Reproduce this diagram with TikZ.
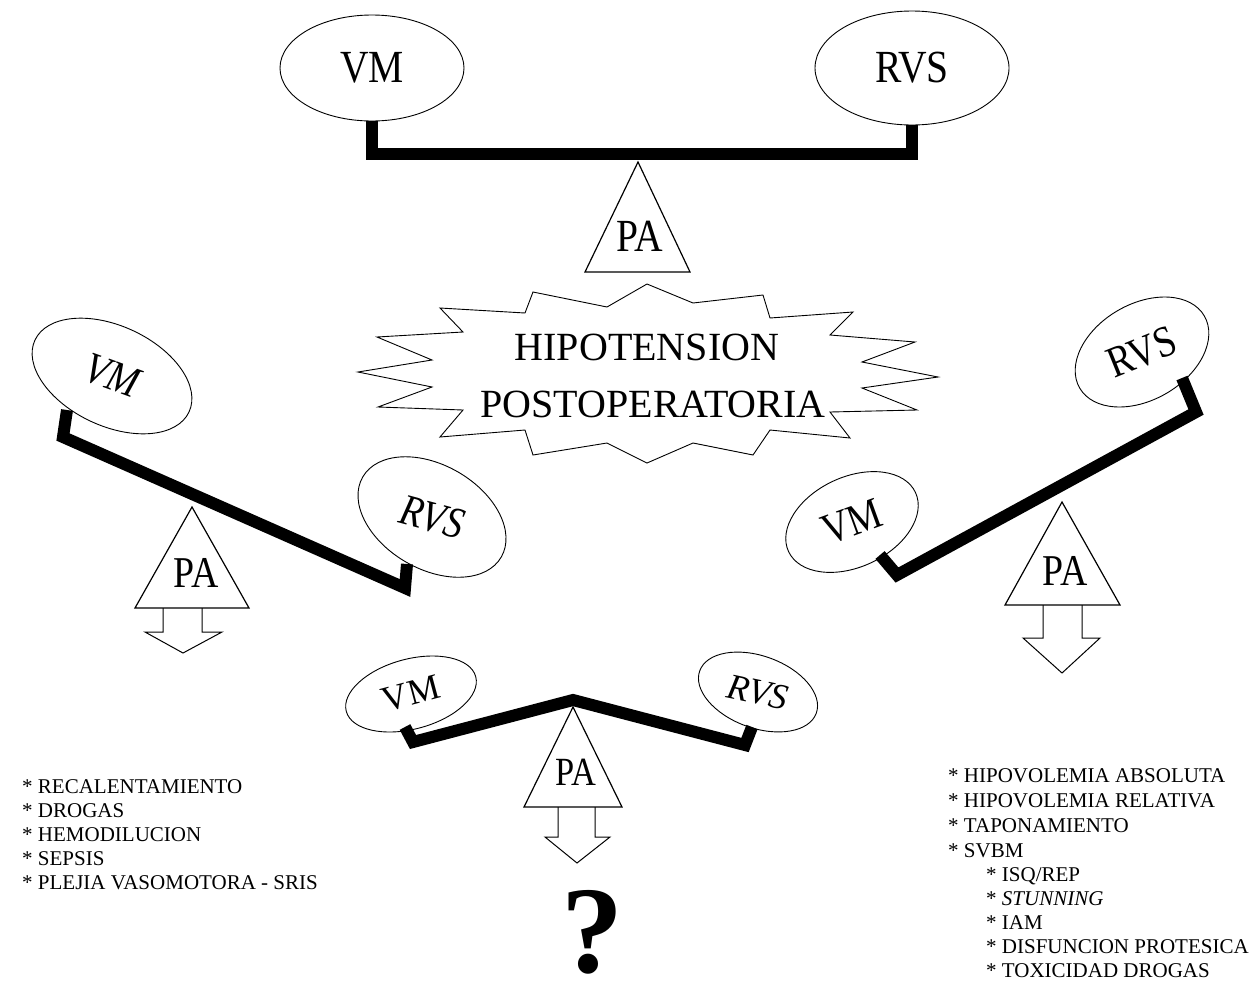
\documentclass[tikz,border=0pt]{standalone}
\usepackage{fontspec}
\usepackage{graphicx}
\setmainfont{Liberation Serif}
\usetikzlibrary{shapes.geometric}
% horizontally condensed lettering for the oval labels
\newcommand{\squeezed}[1]{\scalebox{0.86}[1]{#1}}

\begin{document}
\begin{tikzpicture}[x=1pt,y=-1pt,
  oval/.style={draw, ellipse, line width=0.9pt, inner sep=0pt},
  bigfont/.style={font=\fontsize{46}{50}\selectfont},
  midfont/.style={font=\fontsize{44}{48}\selectfont},
  miditalic/.style={font=\fontsize{44}{48}\selectfont\itshape},
  smallfont/.style={font=\fontsize{36}{40}\selectfont},
  smallitalic/.style={font=\fontsize{36}{40}\selectfont\itshape},
  beam/.style={line width=12pt, line join=miter, line cap=butt},
  fulcrum/.style={draw, line width=1.2pt, line join=miter},
  blockarrow/.style={draw, line width=1pt, line join=miter},
  listfont/.style={font=\fontsize{21}{24}\selectfont, anchor=base west, inner sep=0pt},
]
\useasboundingbox (0,0) rectangle (1260,983);

% ---------- balanced scale (top) ----------
\node[oval, bigfont, minimum width=184pt, minimum height=106pt] (vmT) at (372,68) {\squeezed{VM}};
\node[oval, bigfont, minimum width=194pt, minimum height=114pt] (rvsT) at (912,68) {\squeezed{RVS}};
\coordinate (tA) at (638,162);
\coordinate (tB) at (585,272);
\coordinate (tC) at (690,272);
\draw[fulcrum] (tA) -- (tB) -- (tC) -- cycle;
\node[bigfont, inner sep=0pt] (paT) at (640,236) {\squeezed{PA}};
\coordinate (tR) at (912,154);
\draw[beam] (vmT.south) |- (tR) -- (rvsT.south);

% ---------- central burst ----------
\draw[line width=0.9pt, line join=miter]
  (440,308) -- (525,313) -- (533,292) -- (607,307) -- (647,284) -- (693,303)
  -- (763,295) -- (770,318) -- (853,312) -- (830,335) -- (915,342) -- (862,362)
  -- (938,377) -- (862,388) -- (917,410) -- (830,412) -- (850,438) -- (770,430)
  -- (753,455) -- (693,443) -- (647,463) -- (607,443) -- (533,455) -- (525,430)
  -- (440,437) -- (463,410) -- (378,407) -- (432,387) -- (358,372) -- (432,360)
  -- (377,337) -- (463,332) -- cycle;
\node[anchor=base, inner sep=0pt, font=\fontsize{40}{44}\selectfont] (title1) at (647,360) {HIPOTENSION};
\node[anchor=base, inner sep=0pt, font=\fontsize{40}{44}\selectfont] (title2) at (653,417) {POSTOPERATORIA};

% ---------- scale tipped to the right (left) ----------
\node[oval, miditalic, minimum width=170pt, minimum height=100pt, rotate=-25] (vmL) at (112,376) {\rotatebox{5}{\squeezed{VM}}};
\node[oval, miditalic, minimum width=160pt, minimum height=104pt, rotate=-30] (rvsL) at (432,517) {\rotatebox{15}{\squeezed{RVS}}};
\coordinate (lA) at (192,507);
\coordinate (lB) at (135,608);
\coordinate (lC) at (249,608);
\draw[fulcrum] (lA) -- (lB) -- (lC) -- cycle;
\node[midfont, inner sep=0pt] (paL) at (196,573) {\squeezed{PA}};
\coordinate (l1) at (67,410);
\coordinate (l2) at (63,437);
\coordinate (l3) at (405,588);
\coordinate (l4) at (407,564);
\draw[beam] (l1) -- (l2) -- (l3) -- (l4);
\coordinate (la1) at (163,608);
\coordinate (la2) at (202,608);
\draw[blockarrow] (la1) -- (163,632) -- (145,632) -- (183,653) -- (222,632) -- (202,632) -- (la2);

% ---------- scale tipped to the left (right) ----------
\node[oval, midfont, minimum width=144pt, minimum height=96pt, rotate=30] (rvsR) at (1142,352) {\rotatebox{-8}{\squeezed{RVS}}};
\node[oval, midfont, minimum width=140pt, minimum height=90pt, rotate=25] (vmR) at (852,522) {\rotatebox{-5}{\squeezed{VM}}};
\coordinate (rA) at (1062,502);
\coordinate (rB) at (1005,605);
\coordinate (rC) at (1120,605);
\draw[fulcrum] (rA) -- (rB) -- (rC) -- cycle;
\node[midfont, inner sep=0pt] (paR) at (1065,571) {\squeezed{PA}};
\coordinate (r1) at (1182,378);
\coordinate (r2) at (1196,412);
\coordinate (r3) at (897,575);
\coordinate (r4) at (880,555);
\draw[beam] (r1) -- (r2) -- (r3) -- (r4);
\coordinate (ra1) at (1043,605);
\coordinate (ra2) at (1082,605);
\draw[blockarrow] (ra1) -- (1043,638) -- (1023,638) -- (1062,673) -- (1100,638) -- (1082,638) -- (ra2);

% ---------- bent scale (bottom) ----------
\node[oval, smallfont, minimum width=134pt, minimum height=70pt, rotate=15] (vmB) at (411,694) {VM};
\node[oval, smallitalic, minimum width=124pt, minimum height=72pt, rotate=-20] (rvsB) at (758,692) {\rotatebox{8}{RVS}};
\coordinate (bA) at (573,707);
\coordinate (bB) at (524,807);
\coordinate (bC) at (622,807);
\draw[fulcrum] (bA) -- (bB) -- (bC) -- cycle;
\node[font=\fontsize{40}{44}\selectfont, inner sep=0pt] (paB) at (576,772) {\squeezed{PA}};
\coordinate (b1) at (405,727);
\coordinate (b2) at (413,742);
\coordinate (b3) at (573,700);
\coordinate (b4) at (745,745);
\coordinate (b5) at (752,727);
\draw[beam] (b1) -- (b2) -- (b3) -- (b4) -- (b5);
\coordinate (ba1) at (558,807);
\coordinate (ba2) at (595,807);
\draw[blockarrow] (ba1) -- (558,837) -- (545,837) -- (577,863) -- (610,837) -- (595,837) -- (ba2);
\node[anchor=base, inner sep=0pt, text depth=0pt, text height=90pt, font=\fontsize{124}{124}\selectfont\bfseries] (query) at (592,972) {?};

% ---------- causes, left ----------
\node[listfont] (c1) at (22,793) {* RECALENTAMIENTO};
\node[listfont] (c2) at (22,817) {* DROGAS};
\node[listfont] (c3) at (22,841) {* HEMODILUCION};
\node[listfont] (c4) at (22,865) {* SEPSIS};
\node[listfont] (c5) at (22,889) {* PLEJIA VASOMOTORA - SRIS};

% ---------- causes, right ----------
\node[listfont] (d1) at (948,782) {* HIPOVOLEMIA ABSOLUTA};
\node[listfont] (d2) at (948,807) {* HIPOVOLEMIA RELATIVA};
\node[listfont] (d3) at (948,832) {* TAPONAMIENTO};
\node[listfont] (d4) at (948,857) {* SVBM};
\node[listfont] (d5) at (986,881) {* ISQ/REP};
\node[listfont] (d6) at (986,905) {* \textit{STUNNING}};
\node[listfont] (d7) at (986,929) {* IAM};
\node[listfont] (d8) at (986,953) {* DISFUNCION PROTESICA};
\node[listfont] (d9) at (986,977) {* TOXICIDAD DROGAS};
\end{tikzpicture}
\end{document}
